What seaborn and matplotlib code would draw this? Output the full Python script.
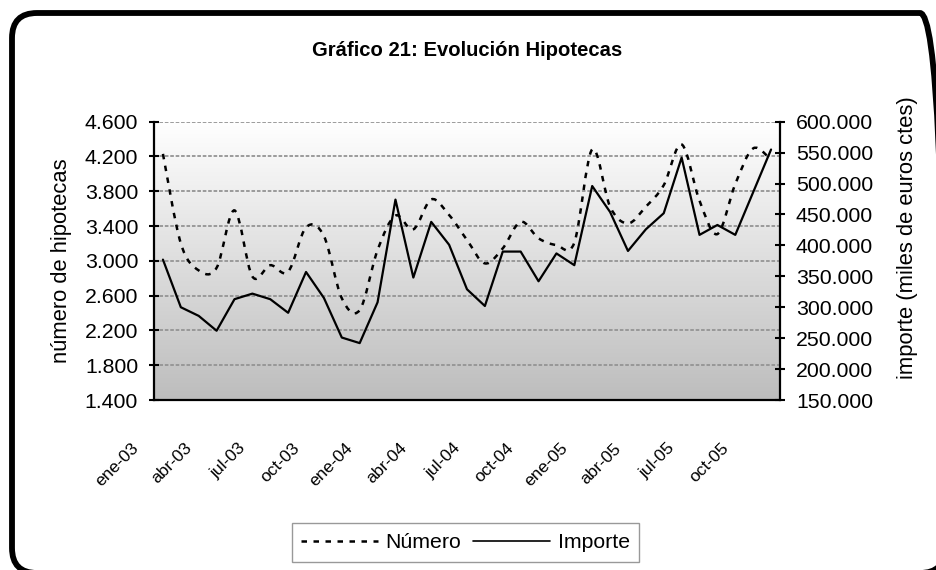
import numpy as np
import pandas as pd
import matplotlib
matplotlib.use("Agg")
import matplotlib.pyplot as plt
import seaborn as sns
from matplotlib.path import Path
from matplotlib.patches import PathPatch, FancyBboxPatch
from matplotlib.lines import Line2D
from matplotlib.colors import LinearSegmentedColormap
from matplotlib.ticker import FuncFormatter
import matplotlib.transforms as mtransforms
from matplotlib import font_manager

# ---------------- data ----------------
categorias = ["ene-03", "feb-03", "mar-03", "abr-03", "may-03", "jun-03",
              "jul-03", "ago-03", "sep-03", "oct-03", "nov-03", "dic-03",
              "ene-04", "feb-04", "mar-04", "abr-04", "may-04", "jun-04",
              "jul-04", "ago-04", "sep-04", "oct-04", "nov-04", "dic-04",
              "ene-05", "feb-05", "mar-05", "abr-05", "may-05", "jun-05",
              "jul-05", "ago-05", "sep-05", "oct-05", "nov-05"]
numero = [4230, 3200, 2890, 2920, 3580, 2820, 2950, 2875, 3385, 3285,
          2570, 2434, 3124, 3520, 3362, 3707, 3527, 3240, 2971, 3144,
          3450, 3259, 3182, 3209, 4282, 3623, 3431, 3623, 3870, 4339,
          3692, 3308, 3883, 4293, 4159]
importe = [377000, 300000, 286000, 262000, 313000, 322000, 313000, 291000,
           357000, 315000, 251000, 242000, 308000, 474000, 348000, 438000,
           401000, 329000, 302000, 390000, 390000, 342000, 387000, 368000,
           496000, 454000, 391000, 426000, 452000, 542000, 417000, 433000,
           417000, 486000, 555000]
etiquetas_x = categorias[::3]
ticks_izq = [1400, 1800, 2200, 2600, 3000, 3400, 3800, 4200, 4600]
ticks_der = [150000, 200000, 250000, 300000, 350000, 400000, 450000, 500000,
             550000, 600000]

titulo = "Gráfico 21: Evolución Hipotecas"
etiqueta_izq = "número de hipotecas"
etiqueta_der = "importe (miles de euros ctes)"
serie1 = "Número"
serie2 = "Importe"

# ---------------- style ----------------
sns.set_theme(style="white")
plt.rcParams['font.family'] = ['Liberation Sans', 'DejaVu Sans']
plt.rcParams['text.color'] = 'black'
plt.rcParams['axes.labelcolor'] = 'black'
plt.rcParams['xtick.color'] = 'black'
plt.rcParams['ytick.color'] = 'black'

available = {f.name for f in font_manager.fontManager.ttflist}
if 'Liberation Sans Narrow' in available:
    xfam, xfs = ['Liberation Sans Narrow', 'Liberation Sans'], 14.5
else:
    xfam, xfs = ['Liberation Sans', 'DejaVu Sans'], 12.5

FS = 15.3
W, H, DPI = 936, 570, 100
fig = plt.figure(figsize=(W / DPI, H / DPI), dpi=DPI)
fig.patch.set_facecolor('white')

x0, x1, ytop, ybot = 154, 780, 121.7, 400
ax = fig.add_axes([x0 / W, 1 - ybot / H, (x1 - x0) / W, (ybot - ytop) / H])
ax2 = ax.twinx()

n = len(categorias)
df = pd.DataFrame({'pos': np.arange(n), 'numero': numero, 'importe': importe})

# gradient background
cmap = LinearSegmentedColormap.from_list('g', ['#bdbdbd', '#ffffff'])
grad = np.linspace(1, 0, 256).reshape(-1, 1)
ax.imshow(grad, extent=[0, 1, 0, 1], transform=ax.transAxes, aspect='auto',
          cmap=cmap, vmin=0, vmax=1, zorder=0, origin='upper')

# grid
ax.set_axisbelow(True)
ax.yaxis.grid(True, color='#949494', linestyle=(0, (2, 1)), linewidth=1.3)
ax.xaxis.grid(False)

# smoothed dashed line for "Número" (Excel-like bezier smoothing)
dash = (0, (2.2, 2.6))
xs = df['pos'].to_numpy(dtype=float)
ys = df['numero'].to_numpy(dtype=float)
verts = [(xs[0], ys[0])]
codes = [Path.MOVETO]
for i in range(n - 1):
    a = i - 1 if i > 0 else i
    b = i + 2 if i + 2 < n else i + 1
    c1 = (xs[i] + (xs[i + 1] - xs[a]) / 6, ys[i] + (ys[i + 1] - ys[a]) / 6)
    c2 = (xs[i + 1] - (xs[b] - xs[i]) / 6, ys[i + 1] - (ys[b] - ys[i]) / 6)
    verts += [c1, c2, (xs[i + 1], ys[i + 1])]
    codes += [Path.CURVE4] * 3
ax.add_patch(PathPatch(Path(verts, codes), fill=False, edgecolor='black',
                       linewidth=1.8, linestyle=dash, zorder=3,
                       capstyle='butt'))

# solid line for "Importe"
sns.lineplot(data=df, x='pos', y='importe', ax=ax2, color='black',
             linewidth=1.6, legend=False)

# axes limits and ticks
ax.set_xlim(-0.5, n - 0.5)
ax.set_ylim(1400, 4600)
ax2.set_ylim(150000, 600000)
fmt = FuncFormatter(lambda v, p: f"{int(round(v)):,}".replace(',', '.'))
ax.set_yticks(ticks_izq)
ax.yaxis.set_major_formatter(fmt)
ax2.set_yticks(ticks_der)
ax2.yaxis.set_major_formatter(fmt)

ax.set_xticks(np.arange(-0.5, n, 1.0))
ax.set_xticklabels([])
ax.set_xticks(np.arange(0, n, 3), minor=True)
ax.set_xticklabels(etiquetas_x, minor=True, rotation=45, ha='right',
                   va='center', rotation_mode='anchor', fontsize=xfs,
                   family=xfam)
ax.tick_params(axis='x', which='major', direction='inout', length=7,
               width=1.5, color='black')
ax.tick_params(axis='x', which='minor', length=0, pad=33)
offset = mtransforms.ScaledTranslation(-27 / DPI, 0, fig.dpi_scale_trans)
for lbl in ax.get_xticklabels(minor=True):
    lbl.set_transform(lbl.get_transform() + offset)

ax.tick_params(axis='y', direction='inout', length=7, width=1.5,
               labelsize=FS, pad=8, color='black')
ax2.tick_params(axis='y', direction='inout', length=7, width=1.5,
                labelsize=FS, pad=8, color='black')

for a in (ax, ax2):
    for s in a.spines.values():
        s.set_visible(False)
ax.spines['left'].set_visible(True)
ax.spines['bottom'].set_visible(True)
ax2.spines['right'].set_visible(True)
for s in (ax.spines['left'], ax.spines['bottom'], ax2.spines['right']):
    s.set_color('black')
    s.set_linewidth(1.6)
    s.set_zorder(5)

ax.set_xlabel('')
ax.set_ylabel('')
ax2.set_xlabel('')
ax2.set_ylabel('')

# texts
fig.text(467 / W, 1 - 50 / H, titulo, ha='center', va='center',
         fontsize=14.6, fontweight='bold')
fig.text(62 / W, 1 - 261 / H, etiqueta_izq, rotation=90, ha='center',
         va='center', fontsize=15.8)
fig.text(908 / W, 1 - 238 / H, etiqueta_der, rotation=90, ha='center',
         va='center', fontsize=15.8)

# legend
handles = [Line2D([], [], color='black', linewidth=1.8, linestyle=dash),
           Line2D([], [], color='black', linewidth=1.2)]
leg = fig.legend(handles, [serie1, serie2], loc='center',
                 bbox_to_anchor=(465.5 / W, 1 - 542.5 / H), ncol=2,
                 frameon=True, fancybox=False, edgecolor='#808080',
                 fontsize=FS, handlelength=3.6, handletextpad=0.37,
                 columnspacing=0.55, borderpad=0.45, borderaxespad=0)
leg.get_frame().set_linewidth(1.0)

# outer rounded border (pixel coordinates)
border = FancyBboxPatch((12, -3), 933, 560,
                        boxstyle='round,pad=0,rounding_size=25',
                        transform=mtransforms.IdentityTransform(),
                        fill=False, edgecolor='black', linewidth=4.2,
                        zorder=10)
fig.patches.append(border)

fig.savefig('out.png', dpi=DPI)
